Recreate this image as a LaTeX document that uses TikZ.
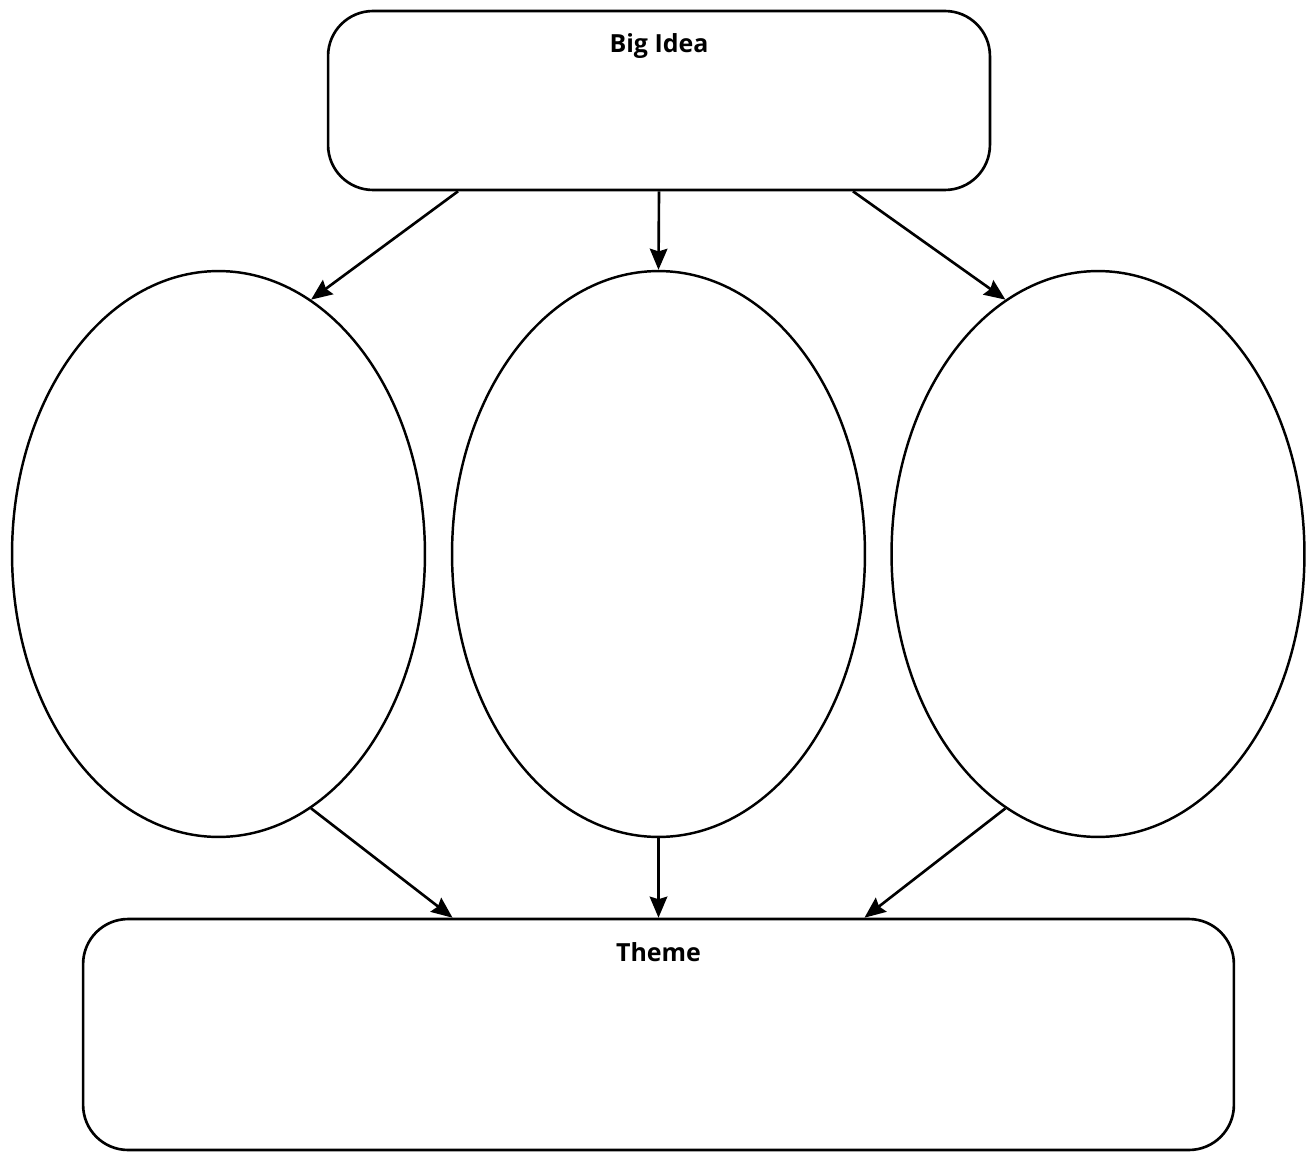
\documentclass[tikz,border=0pt]{standalone}
\usepackage{fontspec}
\setmainfont{Open Sans}
\usepackage{tikz}
\usetikzlibrary{positioning}
\usetikzlibrary{shapes.geometric}
\usetikzlibrary{arrows.meta}
\tikzset{
  roundbox/.style={draw=black, line width=1.5pt, rounded corners=0.9cm, inner sep=0},
  bubble/.style={draw=black, line width=1.4pt, ellipse, inner sep=0, minimum width=8.26cm, minimum height=11.32cm},
  link/.style={black, line width=1.5pt, -{Stealth[length=12pt, width=10pt, inset=1.5pt]}},
  boxtitle/.style={font=\bfseries\fontsize{14.2}{16}\selectfont}
}

\begin{document}
\begin{tikzpicture}[x=0.02cm, y=-0.02cm]
				    		\useasboundingbox (0, 0) rectangle (1308, 1152);
				    		\node[roundbox, minimum width=13.24cm, minimum height=3.58cm] (big) at (659, 100.5) {};
				    		\node[boxtitle] (bigtitle) at (659, 46) {Big Idea};
				    		\node[bubble] (left) at (218.5, 554) {};
				    		\node[bubble] (mid) at (658.5, 554) {};
				    		\node[bubble] (right) at (1098, 554) {};
				    		\node[roundbox, minimum width=23.02cm, minimum height=4.62cm] (theme) at (658.5, 1034.5) {};
				    		\node[boxtitle] (themetitle) at (658.5, 952) {Theme};
				    		% arrows from the big idea
				    		\draw[link] ([xshift=-4.02cm]big.south) -- (left.70);
				    		\draw[link] (big.south) -- (mid.north);
				    		\draw[link] ([xshift=3.88cm]big.south) -- (right.110);
				    		% arrows into the theme
				    		\draw[link] (left.290) -- ([xshift=-4.12cm]theme.north);
				    		\draw[link] (mid.south) -- (theme.north);
				    		\draw[link] (right.250) -- ([xshift=4.12cm]theme.north);
				    	\end{tikzpicture}
\end{document}
